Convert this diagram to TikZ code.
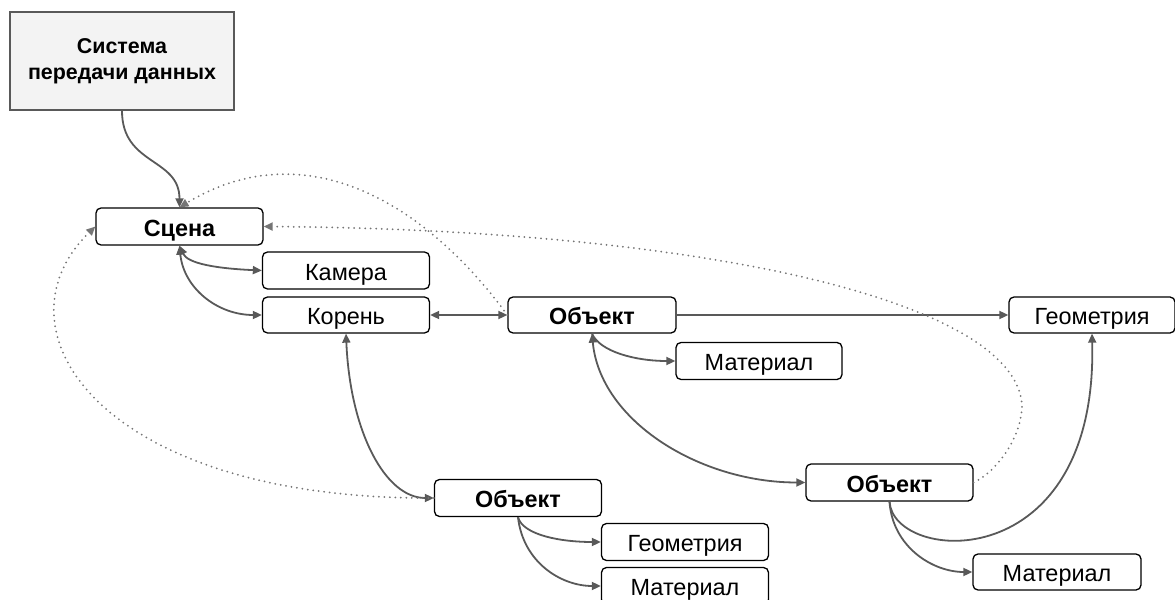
\documentclass[tikz,border=0pt]{standalone}
\usepackage{fontspec}
\setmainfont{Liberation Sans}
\usetikzlibrary{arrows.meta}
\definecolor{lineg}{HTML}{595959}
\definecolor{dotg}{HTML}{757575}
\definecolor{sysfill}{HTML}{F3F3F3}
\begin{document}
\begin{tikzpicture}[x=1bp,y=-1bp,
  >={Triangle[length=9bp,width=8bp]},
  box/.style={draw=black, line width=1.3bp, rounded corners=5bp, fill=white,
    minimum height=36bp, minimum width=166bp, inner sep=0pt,
    text height=19.5bp, text depth=0bp,
    font=\fontsize{23.5}{27}\selectfont},
  bbox/.style={box, font=\fontsize{23.5}{27}\selectfont\bfseries},
  sysbox/.style={draw=lineg, fill=sysfill, line width=1.5bp,
    minimum width=224bp, minimum height=98bp, inner sep=0pt, align=center,
    font=\fontsize{21.5}{26}\selectfont\bfseries},
  conn/.style={draw=lineg, line width=1.8bp},
  dots/.style={draw=dotg, line width=2bp, dash pattern=on 0bp off 5.5bp, line cap=round}
]
\useasboundingbox (0,0) rectangle (1175,600);

\node[sysbox] (sys) at (122,61) {Система\\передачи данных};
\node[bbox, minimum width=167bp, minimum height=37bp] (scene) at (179.5,226.5) {Сцена};
\node[box, minimum width=167bp, minimum height=37bp] (cam) at (346,270.5) {Камера};
\node[box, minimum width=167bp] (root) at (346,315) {Корень};
\node[bbox, minimum width=168bp] (obj1) at (592,315) {Объект};
\node[box] (geo1) at (1092,315) {Геометрия};
\node[box, minimum height=37bp] (mat1) at (759,361) {Материал};
\node[bbox, minimum width=167bp, minimum height=37bp] (obj2) at (518,498) {Объект};
\node[box, minimum width=167bp, minimum height=37bp] (geo2) at (685,542) {Геометрия};
\node[box, minimum width=167bp, minimum height=37bp] (mat2) at (685,586) {Материал};
\node[bbox, minimum width=167bp, minimum height=37bp] (obj3) at (889.5,482.5) {Объект};
\node[box, minimum width=168bp] (mat3) at (1057,572) {Материал};
\coordinate (k1) at (1022,405);

% solid connectors
\draw[conn,->] (sys.south) .. controls +(0,55) and +(0,-50) .. (scene.north);
\draw[conn,<->] (scene.south) .. controls +(8,18) and +(-45,-2) .. (cam.west);
\draw[conn,<->] (scene.south) .. controls +(4,42) and +(-45,0) .. (root.west);
\draw[conn,<->] (root.east) -- (obj1.west);
\draw[conn,->] (obj1.east) -- (geo1.west);
\draw[conn,->] (obj1.south) .. controls +(8,18) and +(-40,0) .. (mat1.west);
\draw[conn,<->] (obj1.south) .. controls +(8,87) and +(-106,0) .. (obj3.west);
\draw[conn,<->] (root.south) .. controls +(4,97) and +(-49,0) .. (obj2.west);
\draw[conn,->] (obj2.south) .. controls +(5,18) and +(-40,0) .. (geo2.west);
\draw[conn,->] (obj2.south) .. controls +(5,45) and +(-40,0) .. (mat2.west);
\draw[conn,->] (obj3.south) .. controls +(3,45) and +(-40,0) .. (mat3.west);
\draw[conn,->] (obj3.south) .. controls +(4,62) and +(6,245) .. (geo1.south);

% dotted connectors
\draw[dots,->] (obj1.west) .. controls +(-88,-120) and +(120,-73) .. (scene.north);
\draw[dots,->] (obj3.east) .. controls +(25,-12) and +(0,30) .. (k1)
   .. controls +(-7,-105) and +(436,3) .. (scene.east);
\draw[dots,->] (obj2.west) .. controls +(-334,2) and +(-106,103) .. (scene.west);
\end{tikzpicture}
\end{document}
